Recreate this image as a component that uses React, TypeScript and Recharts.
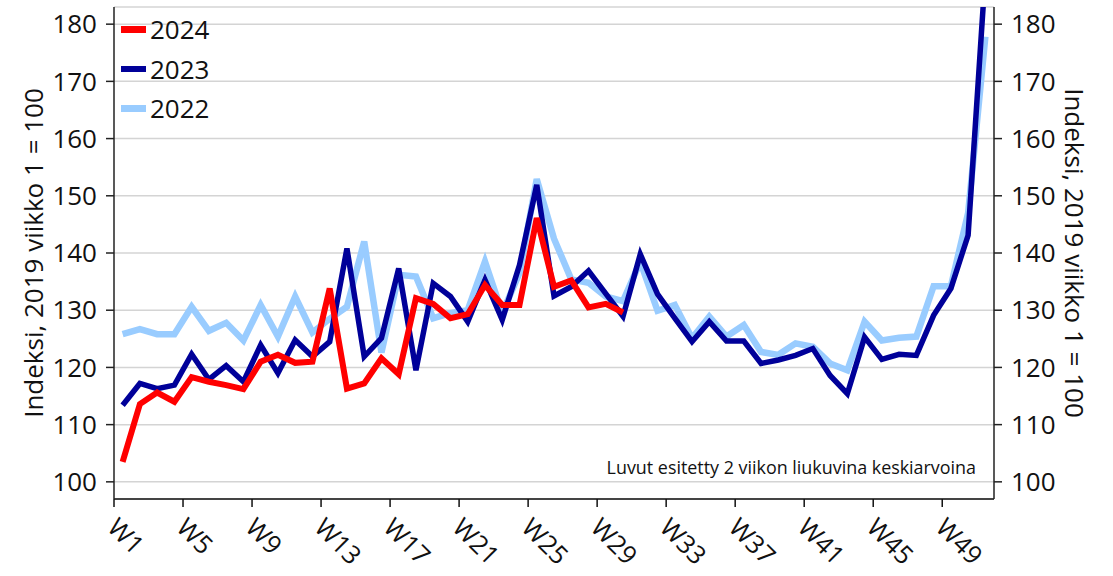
import { LineChart, Line, XAxis, YAxis, CartesianGrid } from "recharts";

// viikot (2 viikon liukuva keskiarvo)
const WEEKS = [
  1, 2, 3, 4, 5, 6, 7, 8, 9, 10, 11, 12, 13, 14, 15, 16, 17, 18, 19, 20, 21, 22, 23, 24, 25, 26,
  27, 28, 29, 30, 31, 32, 33, 34, 35, 36, 37, 38, 39, 40, 41, 42, 43, 44, 45, 46, 47, 48, 49, 50, 51,
];

const TICK_WEEKS = [1, 5, 9, 13, 17, 21, 25, 29, 33, 37, 41, 45, 49];
const Y_TICKS = [100, 110, 120, 130, 140, 150, 160, 170, 180];

const S2024 = [
  103.5, 113.6, 115.6, 114.0, 118.3, 117.5, 116.9, 116.2, 121.0, 122.2, 120.8, 121.0, 133.8, 116.3,
  117.2, 121.6, 118.8, 132.1, 131.1, 128.6, 129.3, 134.4, 130.9, 130.9, 146.1, 134.1, 135.2, 130.5,
  131.1, 129.6,
];

const S2023 = [
  113.4, 117.2, 116.3, 116.9, 122.3, 117.9, 120.3, 117.5, 123.9, 119.0, 124.8, 121.9, 124.5, 140.8,
  121.9, 125.1, 137.3, 119.5, 134.7, 132.4, 128.0, 135.3, 128.3, 137.9, 151.9, 132.5, 134.1, 136.9,
  132.9, 128.9, 139.8, 132.8, 128.6, 124.5, 128.0, 124.6, 124.6, 120.7, 121.3, 122.1, 123.3, 118.6,
  115.4, 125.3, 121.4, 122.3, 122.1, 129.1, 133.8, 143.1, 189.0,
];

const S2022 = [
  125.8, 126.7, 125.8, 125.8, 130.6, 126.4, 127.8, 124.7, 130.9, 125.4, 132.4, 126.1, 128.5, 130.6,
  142.0, 122.6, 136.2, 135.9, 128.6, 129.5, 130.0, 138.5, 129.5, 136.5, 152.9, 142.5, 135.4, 134.8,
  132.4, 131.6, 138.5, 129.9, 130.9, 125.1, 128.9, 125.4, 127.4, 122.7, 122.2, 124.2, 123.6, 120.7,
  119.5, 128.0, 124.7, 125.2, 125.4, 134.2, 134.2, 147.0, 177.8,
];

const SERIES = [
  { key: "y2024", name: "2024", color: "#ff0000" },
  { key: "y2023", name: "2023", color: "#000099" },
  { key: "y2022", name: "2022", color: "#99ccff" },
];

const AXIS_TITLE = "Indeksi, 2019 viikko 1 = 100";
const NOTE = "Luvut esitetty 2 viikon liukuvina keskiarvoina";
const FONT = "'Open Sans', sans-serif";

const data = WEEKS.map((week, i) => ({
  week,
  y2024: i < S2024.length ? S2024[i] : null,
  y2023: S2023[i],
  y2022: S2022[i],
}));

// tick sits on the left edge of each week's slot
const xTicks = TICK_WEEKS.map((w) => w - 0.5);

function WeekTick(props: any) {
  const { x, y, payload } = props;
  const tx = x - 8;
  const ty = y + 20;
  return (
    <text
      x={tx}
      y={ty}
      transform={`rotate(45 ${tx} ${ty})`}
      textAnchor="start"
      fontSize={25.5}
      fontFamily={FONT}
      fill="#111"
    >
      {"W" + (payload.value + 0.5)}
    </text>
  );
}

function axisTitle(side: "left" | "right") {
  return (props: any) => {
    const vb = props.viewBox ?? (side === "left" ? { x: 0, y: 7, width: 114, height: 492 } : { x: 994, y: 7, width: 119, height: 492 });
    const cx = side === "left" ? vb.x + 33 : vb.x + 81;
    const cy = vb.y + vb.height / 2;
    return (
      <text
        x={cx}
        y={cy}
        transform={`rotate(${side === "left" ? -90 : 90} ${cx} ${cy})`}
        textAnchor="middle"
        dominantBaseline="central"
        fontSize={26}
        fontFamily={FONT}
        fill="#111"
      >
        {AXIS_TITLE}
      </text>
    );
  };
}

const tickStyle = { fontSize: 26, fill: "#111", fontFamily: FONT };

export default function App() {
  return (
    <div style={{ position: "absolute", left: 0, top: 0, width: 1113, height: 576, fontFamily: FONT, background: "#fff" }}>
      <LineChart width={1113} height={576} data={data} margin={{ top: 7, right: 0, bottom: 0, left: 0 }}>
        <CartesianGrid horizontal vertical={false} stroke="#d4d4d4" strokeWidth={1.5} yAxisId="left" />
        <XAxis
          dataKey="week"
          type="number"
          domain={[0.5, 51.5]}
          ticks={xTicks}
          interval={0}
          height={77}
          tickSize={8}
          axisLine={{ stroke: "#111", strokeWidth: 1.5 }}
          tickLine={{ stroke: "#111", strokeWidth: 1.5 }}
          tick={<WeekTick />}
        />
        <YAxis
          yAxisId="left"
          orientation="left"
          width={114}
          domain={[97, 183]}
          ticks={Y_TICKS}
          allowDataOverflow
          tickSize={8}
          tickMargin={9}
          axisLine={{ stroke: "#222", strokeWidth: 1.5 }}
          tickLine={{ stroke: "#222", strokeWidth: 1.5 }}
          tick={tickStyle}
          label={axisTitle("left")}
        />
        <YAxis
          yAxisId="right"
          orientation="right"
          width={119}
          domain={[97, 183]}
          ticks={Y_TICKS}
          allowDataOverflow
          tickSize={8}
          tickMargin={9}
          axisLine={{ stroke: "#222", strokeWidth: 1.5 }}
          tickLine={{ stroke: "#222", strokeWidth: 1.5 }}
          tick={tickStyle}
          label={axisTitle("right")}
        />
        <Line yAxisId="left" dataKey="y2022" name="2022" stroke="#99ccff" strokeWidth={6.5} dot={false} isAnimationActive={false} />
        <Line yAxisId="left" dataKey="y2023" name="2023" stroke="#000099" strokeWidth={5.5} dot={false} isAnimationActive={false} />
        <Line yAxisId="left" dataKey="y2024" name="2024" stroke="#ff0000" strokeWidth={6} dot={false} isAnimationActive={false} />
      </LineChart>

      <div style={{ position: "absolute", left: 121, top: 9.5 }}>
        {SERIES.map((s) => (
          <div key={s.key} style={{ height: 39.5, display: "flex", alignItems: "center" }}>
            <span style={{ width: 25, height: 6.5, background: s.color, display: "inline-block", marginRight: 4 }} />
            <span style={{ fontSize: 26, lineHeight: 1, color: "#111" }}>{s.name}</span>
          </div>
        ))}
      </div>

      <div
        style={{
          position: "absolute",
          left: 0,
          width: 976,
          top: 459,
          textAlign: "right",
          fontSize: 17.9,
          lineHeight: 1,
          color: "#111",
          whiteSpace: "nowrap",
        }}
      >
        {NOTE}
      </div>
    </div>
  );
}
